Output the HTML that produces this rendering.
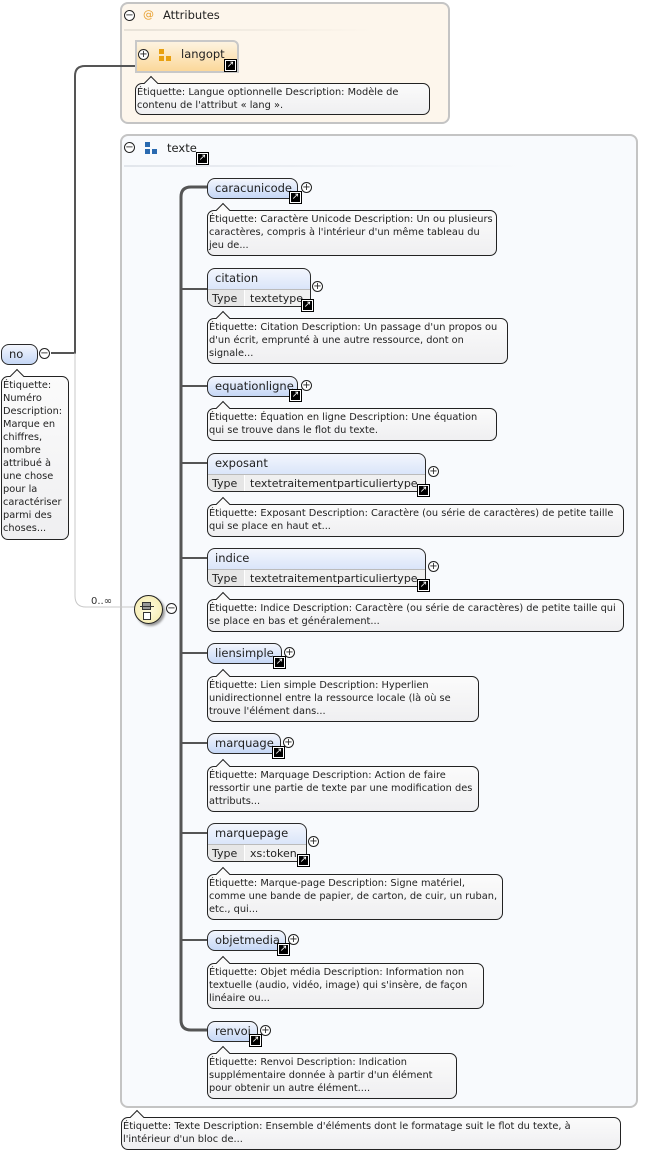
<!DOCTYPE html>
<html><head><meta charset="utf-8"><style>
*{box-sizing:border-box;margin:0;padding:0}
body{width:655px;height:1153px;background:#fff;position:relative;font-family:"DejaVu Sans","Liberation Sans",sans-serif;overflow:hidden;color:#222}
.a{position:absolute}
.grp{position:absolute;border:2px solid #c4c4c4;border-radius:8px}
.el{position:absolute;border:1px solid #2a2a2a;border-radius:8px;background:linear-gradient(#f3f6fd,#c5d7f6);font-size:11.5px;overflow:hidden}
.el .n{height:20px;line-height:18px;padding-left:7px}
.el .t{height:18px;background:#e6e6e6;border-top:1px solid #bbb;font-size:11px;line-height:17px;display:flex;white-space:nowrap}
.el .t span:first-child{width:37px;padding-left:4px;border-right:1px solid #fff}
.el .t span:last-child{padding-left:5px;background:#f0f0f0;flex:1}
.tip{position:absolute;border:1px solid #222;border-radius:7px;background:linear-gradient(#fbfbfb,#efeff1);font-size:9.8px;line-height:13px;padding:2px 2px 2px 1px}
.tip:before{content:"";position:absolute;left:10px;top:-6px;width:9px;height:9px;background:#fbfbfb;border-left:1px solid #222;border-top:1px solid #222;transform:rotate(45deg)}
.lk{position:absolute;width:11px;height:11px;background:#000;border:1px solid #fff;outline:1px solid #000;color:#fff;font-size:9px;line-height:9px;text-align:center}
.pm{position:absolute;width:11px;height:11px;border:1px solid #222;border-radius:50%;background:#fff;font-size:10px;line-height:9px;text-align:center}
.h{position:absolute;height:2px;background:#555}
</style></head><body>

<div class="grp" style="left:120px;top:2px;width:330px;height:122px;background:#fdf6ec"></div>
<div class="grp" style="left:120px;top:134px;width:518px;height:974px;background:#f8fafd"></div>

<svg class="a" style="left:0;top:0" width="655" height="1153">
<path d="M51 353 H75 V76 Q75 66 85 66 H135" fill="none" stroke="#555" stroke-width="2"/>
<path d="M75 353 V596 Q75 607 86 607 H135" fill="none" stroke="#c8c8c8" stroke-width="1"/>
<path d="M207 187 H191 Q181 187 181 197 V1020 Q181 1030 191 1030 H207" fill="none" stroke="#555" stroke-width="3"/>
</svg>

<div class="pm" style="left:124px;top:10px">−</div>
<div class="a" style="left:143px;top:8px;font-size:11px;color:#e8a030">@</div>
<div class="a" style="left:163px;top:8px;font-size:11.5px">Attributes</div>
<div class="a" style="left:124px;top:29px;width:250px;height:2px;background:linear-gradient(90deg,#e8e2d8,#fdf6ec)"></div>
<div class="a" style="left:135px;top:40px;width:104px;height:33px;border:2px solid #c8c8c8;border-radius:0 6px 0 0;background:linear-gradient(#fdf3e0,#fbd89a)"></div>
<div class="pm" style="left:138px;top:49px">+</div>
<div class="a" style="left:159px;top:49px;width:5px;height:5px;background:#e8a010"></div>
<div class="a" style="left:159px;top:56px;width:5px;height:5px;background:#e8a010"></div>
<div class="a" style="left:166px;top:56px;width:5px;height:5px;background:#e8a010"></div>
<div class="a" style="left:181px;top:47px;font-size:11.5px">langopt</div>
<div class="lk" style="left:225px;top:60px">↗</div>
<div class="tip" style="left:135px;top:83px;width:295px;height:32px">Étiquette: Langue optionnelle Description: Modèle de contenu de l'attribut « lang ».</div>

<div class="el" style="left:1px;top:344px;width:37px;height:21px"><div class="n">no</div></div>
<div class="pm" style="left:39px;top:348px">−</div>
<div class="tip" style="left:1px;top:376px;width:68px;height:164px;padding-right:1px">Étiquette: Numéro Description: Marque en chiffres, nombre attribué à une chose pour la caractériser parmi des choses...</div>
<div class="a" style="left:91px;top:596px;font-size:10px;color:#333">0..∞</div>

<div class="pm" style="left:124px;top:142px">−</div>
<div class="a" style="left:145px;top:142px;width:5px;height:5px;background:#2a6ab0"></div>
<div class="a" style="left:145px;top:149px;width:5px;height:5px;background:#2a6ab0"></div>
<div class="a" style="left:152px;top:149px;width:5px;height:5px;background:#2a6ab0"></div>
<div class="a" style="left:167px;top:141px;font-size:11.5px">texte</div>
<div class="lk" style="left:197px;top:153px">↗</div>
<div class="a" style="left:124px;top:165px;width:400px;height:2px;background:linear-gradient(90deg,#e2e6ec,#f8fafd)"></div>

<div class="a" style="left:134px;top:595px;width:29px;height:29px;border:1px solid #222;border-radius:50%;background:radial-gradient(#fffbe0,#f3e9a8);box-shadow:2px 2px 2px #999"></div>
<div class="a" style="left:142px;top:602px;width:9px;height:8px;background:#999;border:1px solid #333"></div>
<div class="a" style="left:140px;top:606px;width:14px;height:1px;background:#333"></div>
<div class="a" style="left:143px;top:612px;width:8px;height:8px;background:#fff;border:1px solid #333"></div>
<div class="pm" style="left:166px;top:603px">−</div>

<div class="el" style="left:207px;top:178px;width:91px;height:21px"><div class="n">caracunicode</div></div>
<div class="lk" style="left:290px;top:192px">↗</div><div class="pm" style="left:301px;top:182px">+</div>
<div class="tip" style="left:207px;top:210px;width:290px;height:46px">Étiquette: Caractère Unicode Description: Un ou plusieurs caractères, compris à l'intérieur d'un même tableau du jeu de...</div>

<div class="el" style="left:207px;top:268px;width:104px;height:39px"><div class="n">citation</div><div class="t"><span>Type</span><span>textetype</span></div></div>
<div class="lk" style="left:302px;top:300px">↗</div><div class="pm" style="left:312px;top:281px">+</div>
<div class="tip" style="left:207px;top:318px;width:301px;height:46px">Étiquette: Citation Description: Un passage d'un propos ou d'un écrit, emprunté à une autre ressource, dont on signale...</div>

<div class="el" style="left:207px;top:376px;width:91px;height:21px"><div class="n">equationligne</div></div>
<div class="lk" style="left:290px;top:390px">↗</div><div class="pm" style="left:301px;top:380px">+</div>
<div class="tip" style="left:207px;top:408px;width:290px;height:33px">Étiquette: Équation en ligne Description: Une équation qui se trouve dans le flot du texte.</div>

<div class="el" style="left:207px;top:453px;width:219px;height:39px"><div class="n">exposant</div><div class="t"><span>Type</span><span>textetraitementparticuliertype</span></div></div>
<div class="lk" style="left:418px;top:485px">↗</div><div class="pm" style="left:428px;top:466px">+</div>
<div class="tip" style="left:207px;top:504px;width:417px;height:33px">Étiquette: Exposant Description: Caractère (ou série de caractères) de petite taille qui se place en haut et...</div>

<div class="el" style="left:207px;top:548px;width:219px;height:39px"><div class="n">indice</div><div class="t"><span>Type</span><span>textetraitementparticuliertype</span></div></div>
<div class="lk" style="left:418px;top:580px">↗</div><div class="pm" style="left:428px;top:561px">+</div>
<div class="tip" style="left:207px;top:599px;width:417px;height:33px">Étiquette: Indice Description: Caractère (ou série de caractères) de petite taille qui se place en bas et généralement...</div>

<div class="el" style="left:207px;top:643px;width:75px;height:21px"><div class="n">liensimple</div></div>
<div class="lk" style="left:274px;top:657px">↗</div><div class="pm" style="left:284px;top:647px">+</div>
<div class="tip" style="left:207px;top:676px;width:272px;height:46px">Étiquette: Lien simple Description: Hyperlien unidirectionnel entre la ressource locale (là où se trouve l'élément dans...</div>

<div class="el" style="left:207px;top:733px;width:74px;height:21px"><div class="n">marquage</div></div>
<div class="lk" style="left:273px;top:747px">↗</div><div class="pm" style="left:283px;top:737px">+</div>
<div class="tip" style="left:207px;top:766px;width:272px;height:46px">Étiquette: Marquage Description: Action de faire ressortir une partie de texte par une modification des attributs...</div>

<div class="el" style="left:207px;top:823px;width:100px;height:39px"><div class="n">marquepage</div><div class="t"><span>Type</span><span>xs:token</span></div></div>
<div class="lk" style="left:298px;top:855px">↗</div><div class="pm" style="left:308px;top:836px">+</div>
<div class="tip" style="left:207px;top:874px;width:296px;height:46px">Étiquette: Marque-page Description: Signe matériel, comme une bande de papier, de carton, de cuir, un ruban, etc., qui...</div>

<div class="el" style="left:207px;top:930px;width:79px;height:21px"><div class="n">objetmedia</div></div>
<div class="lk" style="left:278px;top:944px">↗</div><div class="pm" style="left:288px;top:934px">+</div>
<div class="tip" style="left:207px;top:963px;width:277px;height:46px">Étiquette: Objet média Description: Information non textuelle (audio, vidéo, image) qui s'insère, de façon linéaire ou...</div>

<div class="el" style="left:207px;top:1021px;width:51px;height:21px"><div class="n">renvoi</div></div>
<div class="lk" style="left:250px;top:1035px">↗</div><div class="pm" style="left:260px;top:1025px">+</div>
<div class="tip" style="left:207px;top:1053px;width:250px;height:46px">Étiquette: Renvoi Description: Indication supplémentaire donnée à partir d'un élément pour obtenir un autre élément....</div>

<div class="h" style="left:181px;top:288px;width:26px"></div>
<div class="h" style="left:181px;top:385px;width:26px"></div>
<div class="h" style="left:181px;top:462px;width:26px"></div>
<div class="h" style="left:181px;top:557px;width:26px"></div>
<div class="h" style="left:181px;top:652px;width:26px"></div>
<div class="h" style="left:181px;top:742px;width:26px"></div>
<div class="h" style="left:181px;top:832px;width:26px"></div>
<div class="h" style="left:181px;top:939px;width:26px"></div>

<div class="tip" style="left:121px;top:1117px;width:500px;height:33px">Étiquette: Texte Description: Ensemble d'éléments dont le formatage suit le flot du texte, à l'intérieur d'un bloc de...</div>
</body></html>
